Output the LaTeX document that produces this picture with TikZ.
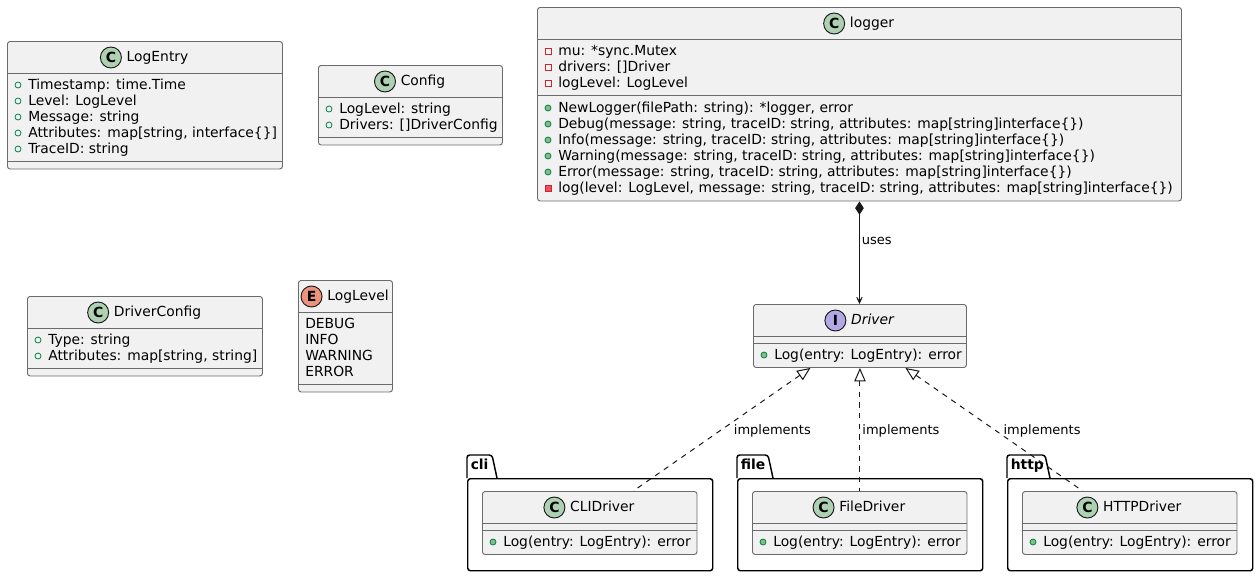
\documentclass[tikz,border=0pt]{standalone}
\usepackage{fontspec}
\setmainfont{DejaVu Sans}
\usepackage{tikz}
\usetikzlibrary{arrows.meta}
\definecolor{boxfill}{HTML}{F1F1F1}
\definecolor{boxline}{HTML}{6B6B6B}
\definecolor{linkgray}{HTML}{181818}
\definecolor{classgreen}{HTML}{ADD1B2}
\definecolor{ifacepurple}{HTML}{B4A7E5}
\definecolor{enumsalmon}{HTML}{EB937F}
\definecolor{pubgreen}{HTML}{038048}
\definecolor{pubfill}{HTML}{84BE84}
\definecolor{privred}{HTML}{C82930}
\definecolor{privfill}{HTML}{F24D5C}
\newcommand{\pxu}{0.75pt}

\begin{document}
\begin{tikzpicture}[
			x=0.75pt,
			y=-0.75pt,
			every node/.style={font=\fontsize{10.4}{12}\selectfont, inner sep=0pt},
			clsbox/.style 2 args={draw=boxline, fill=boxfill, line width=0.7pt,
				rounded corners=2pt, anchor=north west,
				minimum width=#1*\pxu, minimum height=#2*\pxu},
			sepline/.style={draw=boxline, line width=0.7pt},
			clsname/.style={anchor=base},
			badge/.style={circle, draw=linkgray, line width=0.7pt, minimum size=21*\pxu,
				font=\fontsize{10.5}{12}\selectfont\bfseries},
			member/.style={anchor=base west},
			pubf/.style={circle, draw=pubgreen, line width=0.6pt, minimum size=6*\pxu},
			pubm/.style={circle, draw=pubgreen, fill=pubfill, line width=0.6pt, minimum size=6*\pxu},
			privf/.style={rectangle, draw=privred, line width=0.6pt, minimum size=6*\pxu},
			privm/.style={rectangle, draw=privred, fill=privfill, line width=0.6pt, minimum size=6*\pxu},
			pkgbox/.style={draw=black, line width=1.1pt, rounded corners=2pt, anchor=north west,
				minimum width=245*\pxu, minimum height=92*\pxu},
			pkgline/.style={draw=black, line width=1.1pt, rounded corners=2pt},
			pkgname/.style={anchor=base west, font=\fontsize{10.4}{12}\selectfont\bfseries},
			lbl/.style={font=\fontsize{9.75}{11}\selectfont, inner sep=1.5pt},
			uses/.style={draw=linkgray, line width=0.75pt,
				{Diamond[length=10pt,width=6.5pt]}-{Stealth[length=9pt,width=8.5pt,inset=6.5pt]}},
			impl/.style={draw=linkgray, line width=0.75pt, dash pattern=on 4pt off 4pt,
				{Triangle[open,length=10pt,width=8.5pt,fill=white]}-}
		]
			\useasboundingbox (0,0) rectangle (1258,576);

			% LogEntry
			\node[clsbox={275}{127.5}] (logentry) at (7,41) {};
			\node[clsname] (logentry-t) at (157.5,61.5) {LogEntry};
			\node[badge, fill=classgreen] (logentry-c) at ([shift={(-15.5,-4)}]logentry-t.base west) {C};
			\draw[sepline] (logentry.west |- 0,73) -- (logentry.east |- 0,73);
			\draw[sepline] (logentry.west |- 0,161) -- (logentry.east |- 0,161);
			\foreach \y/\txt [count=\i] in {
				89.5/{Timestamp: time.Time},
				105.5/{Level: LogLevel},
				121.5/{Message: string},
				137.5/{Attributes: map[string, interface\{\}]},
				153.5/{TraceID: string}
			}{
				\node[pubf] (logentry-i\i) at (18,\y-4.5) {};
				\node[member] (logentry-m\i) at (28,\y) {\txt};
			}

			% Config
			\node[clsbox={184}{79.5}] (config) at (318,65) {};
			\node[clsname] (config-t) at (423,85.5) {Config};
			\node[badge, fill=classgreen] (config-c) at ([shift={(-15.5,-4)}]config-t.base west) {C};
			\draw[sepline] (config.west |- 0,97) -- (config.east |- 0,97);
			\draw[sepline] (config.west |- 0,137) -- (config.east |- 0,137);
			\foreach \y/\txt [count=\i] in {
				113.5/{LogLevel: string},
				129.5/{Drivers: []DriverConfig}
			}{
				\node[pubf] (config-i\i) at (329,\y-4.5) {};
				\node[member] (config-m\i) at (339,\y) {\txt};
			}

			% DriverConfig
			\node[clsbox={235}{79.5}] (drvconfig) at (27,296) {};
			\node[clsname] (drvconfig-t) at (157.5,316.5) {DriverConfig};
			\node[badge, fill=classgreen] (drvconfig-c) at ([shift={(-15.5,-4)}]drvconfig-t.base west) {C};
			\draw[sepline] (drvconfig.west |- 0,328) -- (drvconfig.east |- 0,328);
			\draw[sepline] (drvconfig.west |- 0,368) -- (drvconfig.east |- 0,368);
			\foreach \y/\txt [count=\i] in {
				344.5/{Type: string},
				360.5/{Attributes: map[string, string]}
			}{
				\node[pubf] (drvconfig-i\i) at (38,\y-4.5) {};
				\node[member] (drvconfig-m\i) at (48,\y) {\txt};
			}

			% LogLevel
			\node[clsbox={94}{111.5}] (loglevel) at (298,280) {};
			\node[clsname] (loglevel-t) at (358,300.5) {LogLevel};
			\node[badge, fill=enumsalmon] (loglevel-c) at ([shift={(-15.5,-4)}]loglevel-t.base west) {E};
			\draw[sepline] (loglevel.west |- 0,312) -- (loglevel.east |- 0,312);
			\draw[sepline] (loglevel.west |- 0,384) -- (loglevel.east |- 0,384);
			\foreach \y/\txt [count=\i] in {
				328.5/DEBUG, 344.5/INFO, 360.5/WARNING, 376.5/ERROR
			}{
				\node[member] (loglevel-m\i) at (305,\y) {\txt};
			}

			% logger
			\node[clsbox={644}{193.5}] (logger) at (537,7) {};
			\node[clsname] (logger-t) at (872,27.5) {logger};
			\node[badge, fill=classgreen] (logger-c) at ([shift={(-15.5,-4)}]logger-t.base west) {C};
			\draw[sepline] (logger.west |- 0,39) -- (logger.east |- 0,39);
			\draw[sepline] (logger.west |- 0,95.5) -- (logger.east |- 0,95.5);
			\foreach \y/\ic/\txt [count=\i] in {
				55.5/privf/{mu: *sync.Mutex},
				71.5/privf/{drivers: []Driver},
				87.5/privf/{logLevel: LogLevel},
				112.5/pubm/{NewLogger(filePath: string): *logger, error},
				128.5/pubm/{Debug(message: string, traceID: string, attributes: map[string]interface\{\})},
				144.5/pubm/{Info(message: string, traceID: string, attributes: map[string]interface\{\})},
				160.5/pubm/{Warning(message: string, traceID: string, attributes: map[string]interface\{\})},
				176.5/pubm/{Error(message: string, traceID: string, attributes: map[string]interface\{\})},
				192.5/privm/{log(level: LogLevel, message: string, traceID: string, attributes: map[string]interface\{\})}
			}{
				\node[\ic] (logger-i\i) at (548,\y-4.5) {};
				\node[member] (logger-m\i) at (558,\y) {\txt};
			}

			% Driver
			\node[clsbox={213}{63}] (drv) at (753,304) {};
			\node[clsname] (drv-t) at (872.5,324.5) {\itshape Driver};
			\node[badge, fill=ifacepurple] (drv-c) at ([shift={(-15.5,-4)}]drv-t.base west) {I};
			\draw[sepline] (drv.west |- 0,336) -- (drv.east |- 0,336);
			\draw[sepline] (drv.west |- 0,343) -- (drv.east |- 0,343);
			\node[pubm] (drv-i1) at (764,355) {};
			\node[member] (drv-m1) at (774,359.5) {Log(entry: LogEntry): error};

			% packages
			\foreach \pk/\pl/\tw/\cls in {
				cli/467/25/CLIDriver,
				file/737/31/FileDriver,
				http/1007/38/HTTPDriver
			}{
				\node[pkgbox] (\pk) at (\pl,478) {};
				\draw[pkgline] (\pk.north west) -- ++(0,-23) -- ++(\tw,0) -- ++(5,23);
				\node[pkgname] (\pk-t) at (\pl+3.5,469) {\pk};
				\node[clsbox={214.5}{63}] (\pk-d) at (\pl+15,491) {};
				\node[clsname] (\pk-dt) at (\pl+135.25,511.5) {\cls};
				\node[badge, fill=classgreen] (\pk-dc) at ([shift={(-15.5,-4)}]\pk-dt.base west) {C};
				\draw[sepline] (\pk-d.west |- 0,523) -- (\pk-d.east |- 0,523);
				\draw[sepline] (\pk-d.west |- 0,530) -- (\pk-d.east |- 0,530);
				\node[pubm] (\pk-di) at (\pl+26,542) {};
				\node[member] (\pk-dm) at (\pl+36,546.5) {Log(entry: LogEntry): error};
			}

			\draw[uses] (logger.south) -- node[lbl, pos=0.39, anchor=west] (uses-l) {uses} (logger.south |- drv.north);
			\draw[impl] ([xshift=-49.5*\pxu]drv.south) --
				node[lbl, pos=0.508, anchor=west, xshift=11*\pxu] (impl-cli) {implements}
				([xshift=43.5*\pxu]cli-d.north);
			\draw[impl] (drv.south) --
				node[lbl, pos=0.508, anchor=west] (impl-file) {implements}
				(drv.south |- file-d.north);
			\draw[impl] ([xshift=45.5*\pxu]drv.south) --
				node[lbl, pos=0.508, anchor=west, xshift=5.6*\pxu] (impl-http) {implements}
				([xshift=-47*\pxu]http-d.north);
		\end{tikzpicture}
\end{document}
